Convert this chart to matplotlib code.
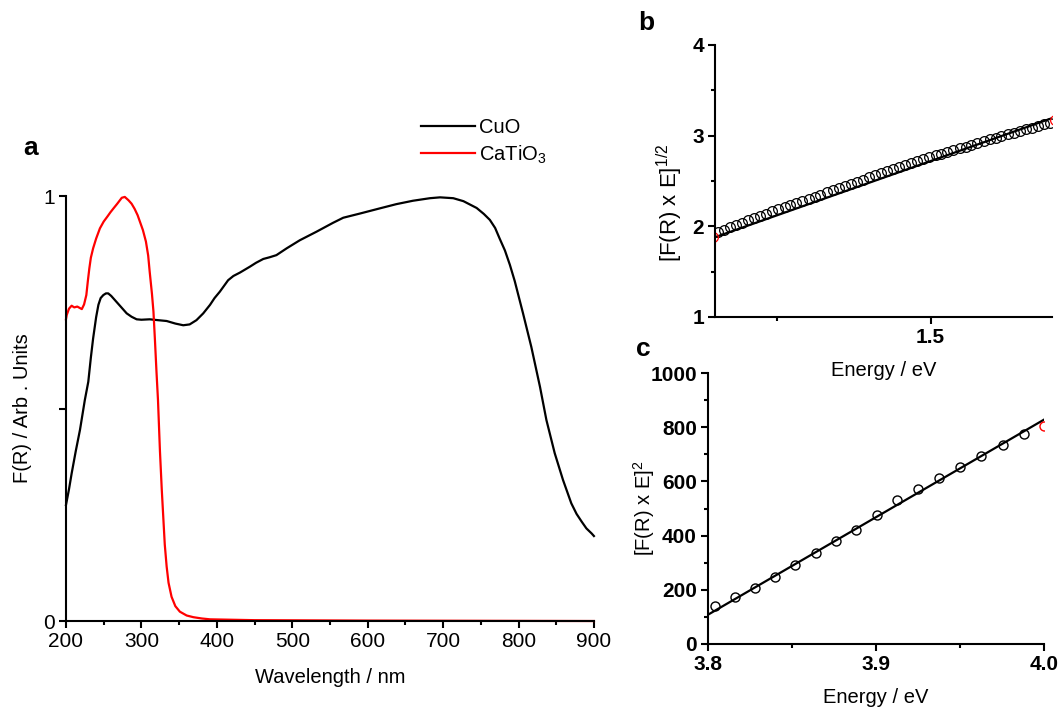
import numpy as np
import matplotlib
matplotlib.use("Agg")
import matplotlib.pyplot as plt
from matplotlib.ticker import MultipleLocator, FormatStrFormatter

plt.rcParams['font.family'] = ['Liberation Sans', 'DejaVu Sans']
plt.rcParams['mathtext.fontset'] = 'custom'
plt.rcParams['mathtext.rm'] = 'Liberation Sans'
plt.rcParams['mathtext.it'] = 'Liberation Sans:italic'
plt.rcParams['mathtext.bf'] = 'Liberation Sans:bold'

#%% data, panel a (normalised F(R))
cuo_wl = [200, 204, 207.5, 213, 218.6, 225, 229.6, 233, 236, 240, 243, 246, 249.5, 253, 256,
          260, 267, 274, 280.5, 287, 293.7, 300, 311, 322, 333.5, 345, 355.5, 364, 373,
          382, 391, 397, 404, 415, 422, 430.7, 444, 452, 461.6, 470, 479, 492.6,
          510, 532, 554, 567.6, 590, 616, 638, 660, 682.6, 696, 713.5, 727, 744.5,
          754, 762, 769, 775, 782, 788.6, 795, 806, 817, 828.5, 837, 848, 859, 870,
          877, 883.7, 890, 897, 900]
cuo_fr = [0.273, 0.31, 0.347, 0.40, 0.45, 0.52, 0.563, 0.62, 0.665, 0.715, 0.744, 0.76,
          0.767, 0.771, 0.771, 0.765, 0.751, 0.737, 0.724, 0.716, 0.71, 0.709, 0.71, 0.708,
          0.706, 0.700, 0.696, 0.698, 0.708, 0.724, 0.744, 0.760, 0.775, 0.802, 0.812,
          0.82, 0.834, 0.843, 0.852, 0.856, 0.861, 0.877,
          0.896, 0.916, 0.937, 0.949, 0.959, 0.971, 0.981, 0.989, 0.995, 0.997, 0.995, 0.988,
          0.972, 0.958, 0.944, 0.925, 0.90, 0.872, 0.838, 0.80, 0.724, 0.645, 0.551, 0.473,
          0.395, 0.332, 0.277, 0.252, 0.234, 0.218, 0.206, 0.20]

cat_wl = [200, 201, 204, 207.5, 211, 215, 219, 221, 224, 227, 229, 231, 233, 236, 240, 245,
          250, 255, 259, 263, 268, 274, 278, 283, 287, 291, 295, 298, 302, 306, 309,
          311, 314, 316, 318, 320, 322, 324.6, 327, 329, 331, 333.5, 336, 340, 345,
          351, 360, 369, 380, 391, 420, 450, 600, 900]
cat_fr = [0.71, 0.72, 0.735, 0.742, 0.738, 0.74, 0.736, 0.734, 0.745, 0.767, 0.80, 0.83,
          0.855, 0.877, 0.90, 0.924, 0.94, 0.952, 0.962, 0.971, 0.982, 0.996, 0.998, 0.99,
          0.982, 0.97, 0.955, 0.94, 0.92, 0.893, 0.86,
          0.822, 0.77, 0.728, 0.66, 0.587, 0.52, 0.40, 0.31, 0.245, 0.18, 0.128, 0.09,
          0.057, 0.035, 0.022, 0.013, 0.009, 0.006, 0.004, 0.003, 0.002, 0.001, 0.0]

#%% data, panel b (indirect gap, CuO)
b_energy = [1.155, 1.165, 1.175, 1.184, 1.194, 1.204, 1.214, 1.223, 1.233, 1.243,
            1.253, 1.263, 1.272, 1.282, 1.292, 1.302, 1.312, 1.321, 1.331, 1.341,
            1.351, 1.361, 1.370, 1.380, 1.390, 1.400, 1.410, 1.419, 1.429, 1.439,
            1.449, 1.459, 1.468, 1.478, 1.488, 1.498, 1.508, 1.517, 1.527, 1.537,
            1.547, 1.557, 1.566, 1.576, 1.586, 1.596, 1.606, 1.615, 1.625, 1.635,
            1.645, 1.655, 1.664, 1.674, 1.684, 1.694]
b_value = [1.940, 1.965, 1.990, 2.015, 2.040, 2.065, 2.090, 2.115, 2.140, 2.165,
           2.190, 2.213, 2.236, 2.259, 2.282, 2.305, 2.328, 2.351, 2.374, 2.397,
           2.420, 2.444, 2.468, 2.492, 2.516, 2.540, 2.562, 2.584, 2.606, 2.628,
           2.650, 2.673, 2.696, 2.719, 2.742, 2.765, 2.784, 2.803, 2.822, 2.841,
           2.860, 2.880, 2.900, 2.920, 2.940, 2.960, 2.978, 2.996, 3.014, 3.032,
           3.050, 3.069, 3.088, 3.107, 3.126, 3.145]
b_out_energy = [1.146, 1.702]
b_out_value = [1.885, 3.17]
b_fit_energy = [1.15, 1.70]
b_fit_value = [1.88, 3.20]

#%% data, panel c (direct gap, CaTiO3)
c_energy = [3.8044, 3.8163, 3.8281, 3.840, 3.852, 3.864, 3.876, 3.888, 3.9005,
            3.9128, 3.925, 3.9376, 3.950, 3.9627, 3.9758, 3.9883]
c_value = [141, 172, 206, 248, 292, 337, 380, 421, 477, 531, 573, 613, 654, 694, 736, 775]
c_out_energy = [4.0]
c_out_value = [804]
c_fit_energy = [3.8, 4.0]
c_fit_value = [108, 828]

#%% figure
fig = plt.figure(figsize=(10.64, 7.13), dpi=100)

def style(ax, bold=False):
    ax.spines['top'].set_visible(False)
    ax.spines['right'].set_visible(False)
    for s in ['left', 'bottom']:
        ax.spines[s].set_linewidth(1.5)
    ax.tick_params(which='major', direction='out', length=5, width=1.5,
                   labelsize=15, pad=3)
    ax.tick_params(which='minor', direction='out', length=3, width=1.5)
    if bold:
        for lab in ax.get_xticklabels() + ax.get_yticklabels():
            lab.set_fontweight('bold')

# panel a
ax0 = fig.add_axes([0.062, 0.129, 0.4962, 0.596])
ax0.plot(cuo_wl, cuo_fr, color='k', lw=1.6, label='CuO', clip_on=False)
ax0.plot(cat_wl, cat_fr, color='r', lw=1.6, label='CaTiO$_3$', clip_on=False)
ax0.set_xlim(200, 900)
ax0.set_ylim(0, 1)
ax0.xaxis.set_major_locator(MultipleLocator(100))
ax0.xaxis.set_minor_locator(MultipleLocator(50))
ax0.set_yticks([0, 0.5, 1])
ax0.set_yticklabels(['0', '', '1'])
style(ax0)
ax0.set_xlabel('Wavelength / nm', fontsize=14.5, labelpad=12)
ax0.set_ylabel('F(R) / Arb . Units', fontsize=14.5, labelpad=8)
ax0.legend(loc='upper left', bbox_to_anchor=(0.396, 0.834), bbox_transform=fig.transFigure,
           frameon=False, fontsize=14.5, handlelength=2.65, handletextpad=0.2,
           labelspacing=0.3, borderaxespad=0, borderpad=0)
fig.text(0.022, 0.783, 'a', fontsize=19, fontweight='bold')

# panel c (drawn first so panel b's label stays visible)
ax2 = fig.add_axes([0.6654, 0.0968, 0.3158, 0.380])
ax2.patch.set_alpha(0)
ax2.plot(c_fit_energy, c_fit_value, color='k', lw=1.6)
ax2.plot(c_energy, c_value, 'o', mfc='none', mec='k', ms=6.5, mew=1.0)
ax2.plot(c_out_energy, c_out_value, 'o', mfc='none', mec='r', ms=6.5, mew=1.0)
ax2.set_xlim(3.8, 4.0)
ax2.set_ylim(0, 1000)
ax2.xaxis.set_major_locator(MultipleLocator(0.1))
ax2.xaxis.set_minor_locator(MultipleLocator(0.05))
ax2.xaxis.set_major_formatter(FormatStrFormatter('%.1f'))
ax2.yaxis.set_major_locator(MultipleLocator(200))
ax2.yaxis.set_minor_locator(MultipleLocator(100))
style(ax2, bold=True)
ax2.set_xlabel('Energy / eV', fontsize=14.5, labelpad=10)
ax2.set_ylabel('[F(R) x E]$^{2}$', fontsize=14.5)
ax2.yaxis.set_label_coords(-0.152, 0.5)
fig.text(0.598, 0.5, 'c', fontsize=19, fontweight='bold')

# panel b
ax1 = fig.add_axes([0.672, 0.5554, 0.3167, 0.3815])
ax1.patch.set_alpha(0)
ax1.plot(b_fit_energy, b_fit_value, color='k', lw=1.6)
ax1.plot(b_energy, b_value, 'o', mfc='none', mec='k', ms=7, mew=0.9)
ax1.plot(b_out_energy, b_out_value, 'o', mfc='none', mec='r', ms=7, mew=0.9)
ax1.set_xlim(1.15, 1.697)
ax1.set_ylim(1, 4)
ax1.set_xticks([1.5])
ax1.set_xticklabels(['1.5'])
ax1.xaxis.set_minor_locator(MultipleLocator(0.25))
ax1.yaxis.set_major_locator(MultipleLocator(1))
ax1.yaxis.set_minor_locator(MultipleLocator(0.5))
style(ax1, bold=True)
ax1.set_xlabel('Energy / eV', fontsize=14.5, labelpad=10)
ax1.set_ylabel('[F(R) x E]$^{1/2}$', fontsize=16)
ax1.yaxis.set_label_coords(-0.09, 0.42)
fig.text(0.6, 0.958, 'b', fontsize=19, fontweight='bold')

fig.savefig('out.png', dpi=100)
